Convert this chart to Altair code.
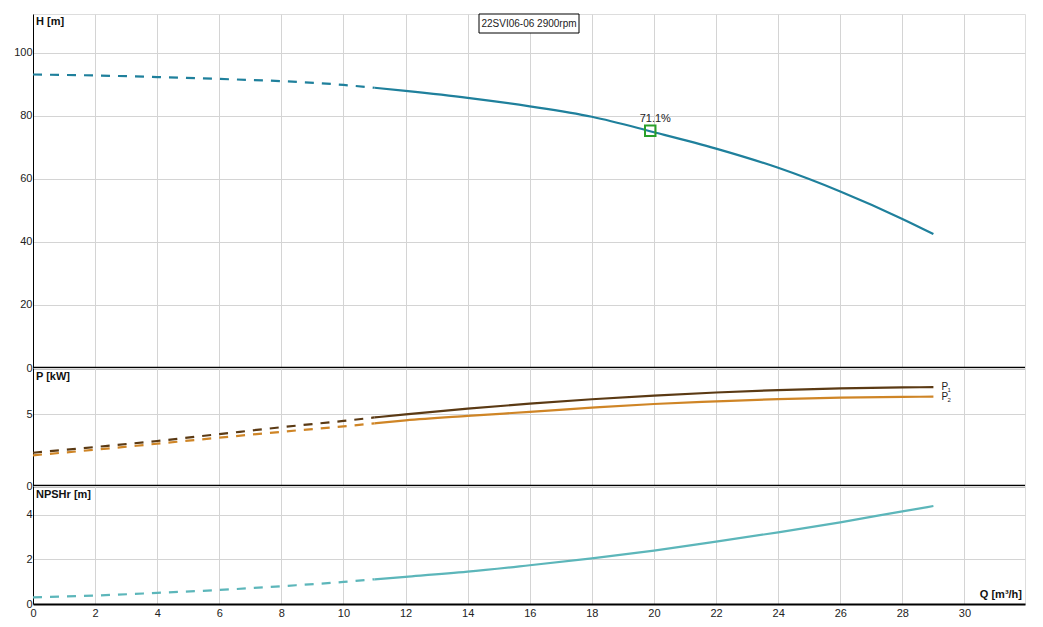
import altair as alt
import pandas as pd

Q = [0, 2, 4, 6, 8, 10, 11, 12, 14, 16, 18, 20, 22, 24, 26, 28, 29]
H = [93.1, 92.8, 92.3, 91.7, 91.0, 89.8, 88.9, 87.9, 85.7, 83.0, 79.7, 74.8, 69.6, 63.5, 56.0, 47.3, 42.5]
P1 = [2.32, 2.72, 3.14, 3.62, 4.10, 4.54, 4.78, 5.00, 5.40, 5.74, 6.05, 6.31, 6.52, 6.69, 6.81, 6.88, 6.89]
P2 = [2.14, 2.53, 2.95, 3.37, 3.78, 4.16, 4.37, 4.58, 4.89, 5.17, 5.46, 5.72, 5.90, 6.06, 6.17, 6.22, 6.23]
NPSH = [0.30, 0.38, 0.50, 0.63, 0.80, 0.99, 1.11, 1.22, 1.45, 1.74, 2.05, 2.40, 2.80, 3.22, 3.67, 4.16, 4.40]
DASH_END = 11

BEP_Q = [19.88]
BEP_H = [75.3]
BEP_LABEL = ["71.1%"]
TITLE = "22SVI06-06 2900rpm"

H_TICKS = [0, 20, 40, 60, 80, 100]
P_TICKS = [0, 5]
N_TICKS = [0, 2, 4]
Q_TICKS = list(range(0, 31, 2))

FONT = "Liberation Sans"
GRID = "#d4d4d4"
W = 992

df = pd.DataFrame({"Q": Q, "H": H, "P1": P1, "P2": P2, "NPSH": NPSH})
xscale = alt.Scale(domain=[0, 31.95], nice=False, zero=False)


def xaxis(bottom):
    if bottom:
        return alt.Axis(values=Q_TICKS, grid=True, gridColor=GRID, ticks=False, labelPadding=3,
                        domainColor="black", domainWidth=2, title=None, labelFontSize=11,
                        labelColor="#222", labelFont=FONT, labelFlush=False)
    return alt.Axis(values=Q_TICKS, grid=True, gridColor=GRID, ticks=False, labels=False,
                    domain=False, title=None, minExtent=0, maxExtent=0, offset=0)


def yaxis(vals):
    return alt.Axis(values=vals, grid=True, gridColor=GRID, ticks=False, labelPadding=1,
                    domainColor="black", domainWidth=1, title=None, labelFontSize=11,
                    labelColor="#222", labelFont=FONT, minExtent=0)


def curve(col, color, yscale, yvals, bottom=False):
    base = alt.Chart(df)
    dashed = base.transform_filter(alt.datum.Q <= DASH_END).mark_line(
        color=color, strokeWidth=2.2, strokeDash=[9, 8], interpolate="monotone").encode(
        x=alt.X("Q:Q", scale=xscale, axis=xaxis(bottom)),
        y=alt.Y(f"{col}:Q", scale=yscale, axis=yaxis(yvals)))
    solid = base.transform_filter(alt.datum.Q >= DASH_END).mark_line(
        color=color, strokeWidth=2.2, interpolate="monotone").encode(
        x=alt.X("Q:Q", scale=xscale),
        y=alt.Y(f"{col}:Q", scale=yscale))
    return dashed + solid


def label(text, x, y, align="left"):
    return alt.Chart(pd.DataFrame({"t": [text]})).mark_text(
        align=align, baseline="middle", fontWeight="bold", fontSize=11, font=FONT, color="#111").encode(
        text="t:N", x=alt.value(x), y=alt.value(y))


def separator(h):
    return alt.Chart(pd.DataFrame({"t": [0]})).mark_rule(color="black", strokeWidth=2.5).encode(
        x=alt.value(0), x2=alt.value(W), y=alt.value(h))


# H panel
hscale = alt.Scale(domain=[0, 112.3], nice=False)
h_chart = curve("H", "#1f809c", hscale, H_TICKS)
bep = pd.DataFrame({"Q": BEP_Q, "H": BEP_H, "t": BEP_LABEL})
bep_pt = alt.Chart(bep).mark_point(shape="square", filled=False, size=110, strokeWidth=2,
                                   color="#2aa02a", opacity=1).encode(
    x=alt.X("Q:Q", scale=xscale), y=alt.Y("H:Q", scale=hscale))
bep_tx = alt.Chart(bep).mark_text(dy=-12, dx=5, fontSize=11, font=FONT, color="#222").encode(
    x=alt.X("Q:Q", scale=xscale), y=alt.Y("H:Q", scale=hscale), text="t:N")
box = alt.Chart(pd.DataFrame({"t": [TITLE]})).mark_rect(
    fill="white", stroke="black", strokeWidth=1).encode(
    x=alt.value(446), x2=alt.value(546), y=alt.value(0), y2=alt.value(19))
box_tx = alt.Chart(pd.DataFrame({"t": [TITLE]})).mark_text(
    fontSize=10, font=FONT, color="#222", baseline="middle").encode(
    text="t:N", x=alt.value(496), y=alt.value(10))
top = alt.layer(h_chart, bep_pt, bep_tx, box, box_tx, label("H [m]", 3, 8), separator(354)).properties(
    width=W, height=354)

# P panel
pscale = alt.Scale(domain=[0, 8.23], nice=False)
p_chart = curve("P1", "#5b3a14", pscale, P_TICKS) + curve("P2", "#cf8526", pscale, P_TICKS)
end = pd.DataFrame({"Q": [Q[-1], Q[-1]], "P": [P1[-1], P2[-1]], "s": ["1", "2"]})
p_letter = alt.Chart(end).mark_text(align="left", baseline="middle", dx=8, fontSize=10,
                                    font=FONT, color="#222").encode(
    x=alt.X("Q:Q", scale=xscale), y=alt.Y("P:Q", scale=pscale), text=alt.value("P"))
p_sub = alt.Chart(end).mark_text(align="left", baseline="middle", dx=14, dy=3, fontSize=6,
                                 font=FONT, color="#222").encode(
    x=alt.X("Q:Q", scale=xscale), y=alt.Y("P:Q", scale=pscale), text="s:N")
mid = alt.layer(p_chart, p_letter, p_sub, label("P [kW]", 3, 9), separator(118)).properties(
    width=W, height=118)

# NPSH panel
nscale = alt.Scale(domain=[0, 5.3], nice=False)
n_chart = curve("NPSH", "#5cb6ba", nscale, N_TICKS, bottom=True)
bot = alt.layer(n_chart, label("NPSHr [m]", 3, 9), label("Q [m³/h]", W - 3, 109, align="right")).properties(
    width=W, height=118)

chart = alt.vconcat(top, mid, bot, spacing=0, bounds="flush").resolve_scale(y="independent").configure_view(
    stroke="black", strokeWidth=1.2).configure(background="white")

chart.save("out.html", embed_options={"renderer": "svg", "actions": False})
